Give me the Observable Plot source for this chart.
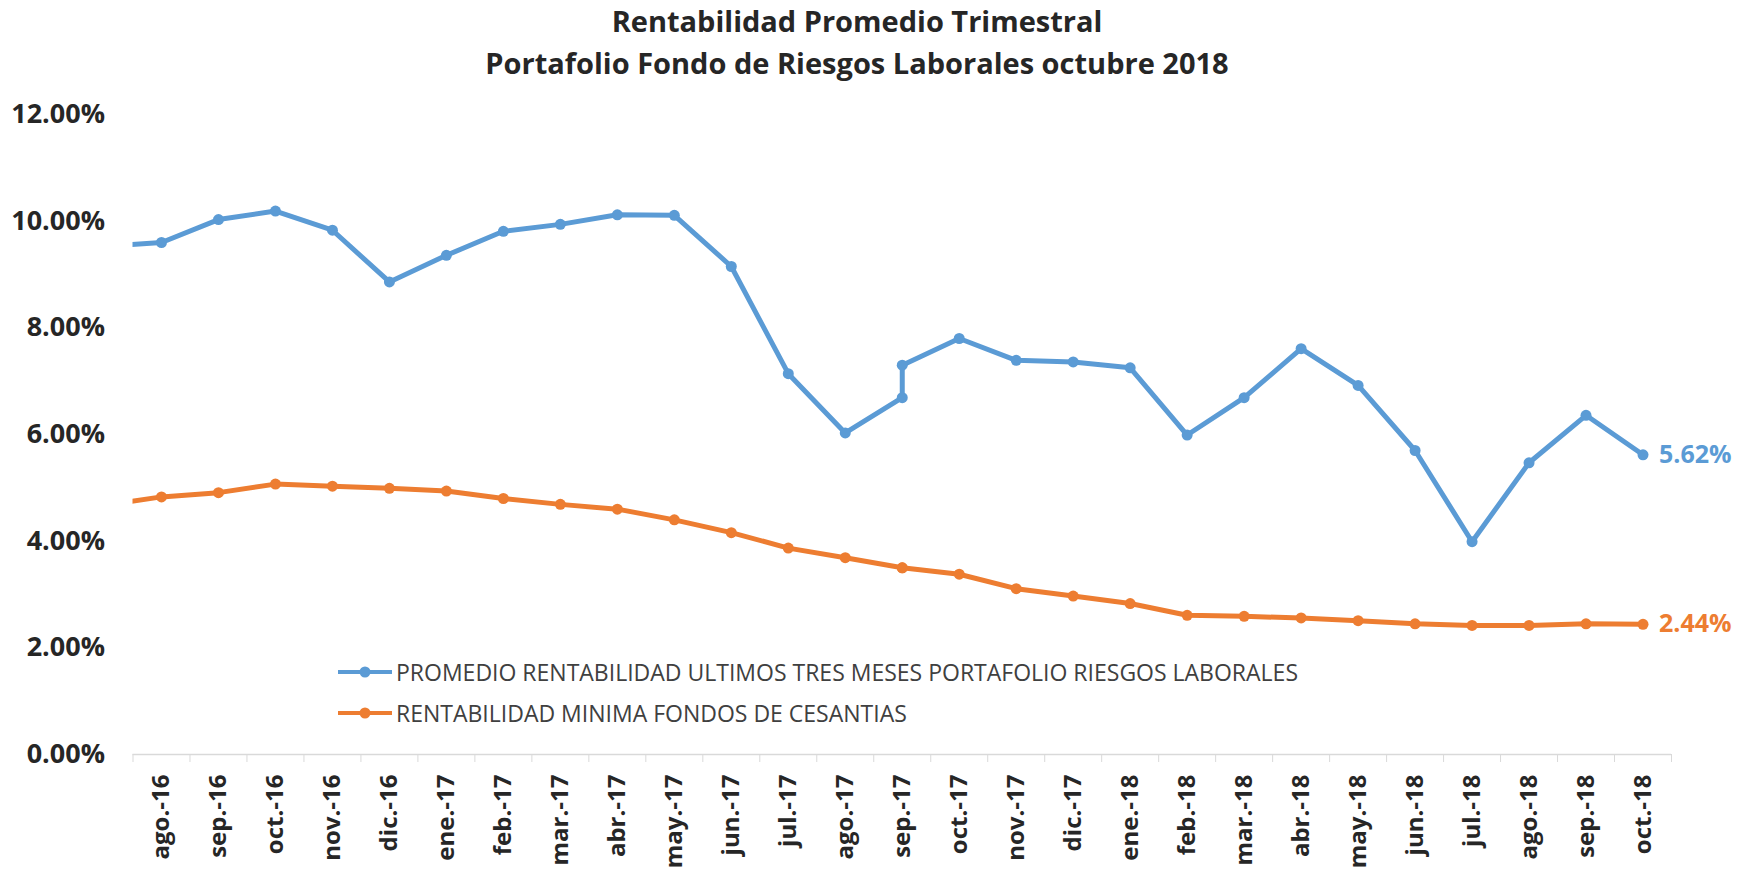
<!DOCTYPE html>
<html><head><meta charset="utf-8">
<script src="https://cdn.jsdelivr.net/npm/d3@7"></script>
<script src="https://cdn.jsdelivr.net/npm/@observablehq/plot@0.6"></script>
<style>
body{margin:0;background:#fff;font-family:"Open Sans",sans-serif;}
#wrap{position:relative;width:1747px;height:871px;overflow:hidden;}
#title{position:absolute;left:0;top:0px;width:1714px;text-align:center;font-weight:700;font-size:29px;line-height:42px;color:#262626;}
#chart{position:absolute;left:0;top:90px;}
.li{position:absolute;left:338px;height:30px;white-space:nowrap;display:flex;align-items:center;font-size:23px;color:#404040;}
.li svg{margin-right:4px;}
</style></head><body>
<div id="wrap">
<div id="title">Rentabilidad Promedio Trimestral<br>Portafolio Fondo de Riesgos Laborales octubre 2018</div>
<div id="chart"></div>
<div id="legend"></div>
</div>
<script>
// Months on the date axis; the first one (jul.-16) lies just left of the visible axis
const allMonths = ["jul.-16","ago.-16","sep.-16","oct.-16","nov.-16","dic.-16","ene.-17","feb.-17","mar.-17","abr.-17","may.-17","jun.-17","jul.-17","ago.-17","sep.-17","oct.-17","nov.-17","dic.-17","ene.-18","feb.-18","mar.-18","abr.-18","may.-18","jun.-18","jul.-18","ago.-18","sep.-18","oct.-18"];
const categories = allMonths.slice(1);
// Period of each data row (sep.-17 appears twice in the source data)
const periods = ["jul.-16","ago.-16","sep.-16","oct.-16","nov.-16","dic.-16","ene.-17","feb.-17","mar.-17","abr.-17","may.-17","jun.-17","jul.-17","ago.-17","sep.-17","sep.-17","oct.-17","nov.-17","dic.-17","ene.-18","feb.-18","mar.-18","abr.-18","may.-18","jun.-18","jul.-18","ago.-18","sep.-18","oct.-18"];
const seriesNames = ["PROMEDIO RENTABILIDAD ULTIMOS TRES MESES PORTAFOLIO RIESGOS LABORALES","RENTABILIDAD MINIMA FONDOS DE CESANTIAS"];
const seriesColors = ["#5B9BD5","#ED7D31"];
const riesgos = [9.53,9.60,10.03,10.19,9.83,8.86,9.36,9.81,9.94,10.12,10.11,9.15,7.14,6.03,6.69,7.30,7.80,7.39,7.36,7.25,5.99,6.69,7.61,6.92,5.70,3.99,5.47,6.36,5.62];
const cesantias = [4.67,4.83,4.91,5.07,5.03,4.99,4.94,4.80,4.69,4.60,4.40,4.16,3.87,3.69,3.50,3.50,3.38,3.11,2.97,2.83,2.61,2.59,2.56,2.51,2.45,2.42,2.42,2.45,2.44];
const yTicks = [0,2,4,6,8,10,12];

const seriesValues = [riesgos, cesantias];
const rows = seriesValues.flatMap((vals, s) => periods.map((p, i) => ({series: seriesNames[s], x: allMonths.indexOf(p), y: vals[i]})));
const lastRows = seriesValues.map((vals, s) => ({series: seriesNames[s], x: allMonths.indexOf(periods[periods.length-1]), y: vals[vals.length-1]}));
const catIdx = categories.map(c => allMonths.indexOf(c));
const boundaries = [...catIdx.map(i => i - 0.5), catIdx[catIdx.length-1] + 0.5];

const plot = Plot.plot({
  width: 1747, height: 781,
  marginTop: 24, marginBottom: 117, marginLeft: 132.5, marginRight: 76,
  style: {fontFamily: "'Open Sans', sans-serif", color: "#262626", background: "white", overflow: "visible"},
  x: {type: "linear", domain: [0.5, catIdx[catIdx.length-1] + 0.5], axis: null, label: null},
  y: {domain: [0, 12], axis: null, label: null},
  color: {domain: seriesNames, range: seriesColors},
  marks: [
    Plot.axisY(yTicks, {label: null, tickSize: 0, tickPadding: 28, tickFormat: d => d.toFixed(2) + "%", fontSize: 27, fontWeight: "bold", fill: "#262626"}),
    Plot.ruleY([0], {stroke: "#d9d9d9", strokeWidth: 1.5}),
    Plot.axisX(boundaries, {label: null, tickSize: 8, tickFormat: () => "", stroke: "#d9d9d9"}),
    Plot.axisX(catIdx, {label: null, tickSize: 0, tickPadding: 20, tickRotate: -90, tickFormat: i => allMonths[i], fontSize: 24, fontWeight: "bold", fill: "#262626"}),
    Plot.line(rows, {x: "x", y: "y", z: "series", stroke: "series", strokeWidth: 5, clip: true}),
    Plot.dot(rows, {x: "x", y: "y", fill: "series", r: 5.5, clip: true}),
    Plot.text(lastRows, {x: "x", y: "y", text: d => d.y.toFixed(2) + "%", fill: "series", dx: 16, textAnchor: "start", fontSize: 25, fontWeight: "bold"})
  ]
});
document.getElementById("chart").appendChild(plot);

const legendTops = [657, 698];
const legend = document.getElementById("legend");
seriesNames.forEach((name, i) => {
  const row = document.createElement("div");
  row.className = "li";
  row.style.top = legendTops[i] + "px";
  row.innerHTML = `<svg width="54" height="14"><line x1="0" x2="54" y1="7" y2="7" stroke="${seriesColors[i]}" stroke-width="4"/><circle cx="27" cy="7" r="5.5" fill="${seriesColors[i]}"/></svg><span>${name}</span>`;
  legend.appendChild(row);
});
</script>
</body></html>
